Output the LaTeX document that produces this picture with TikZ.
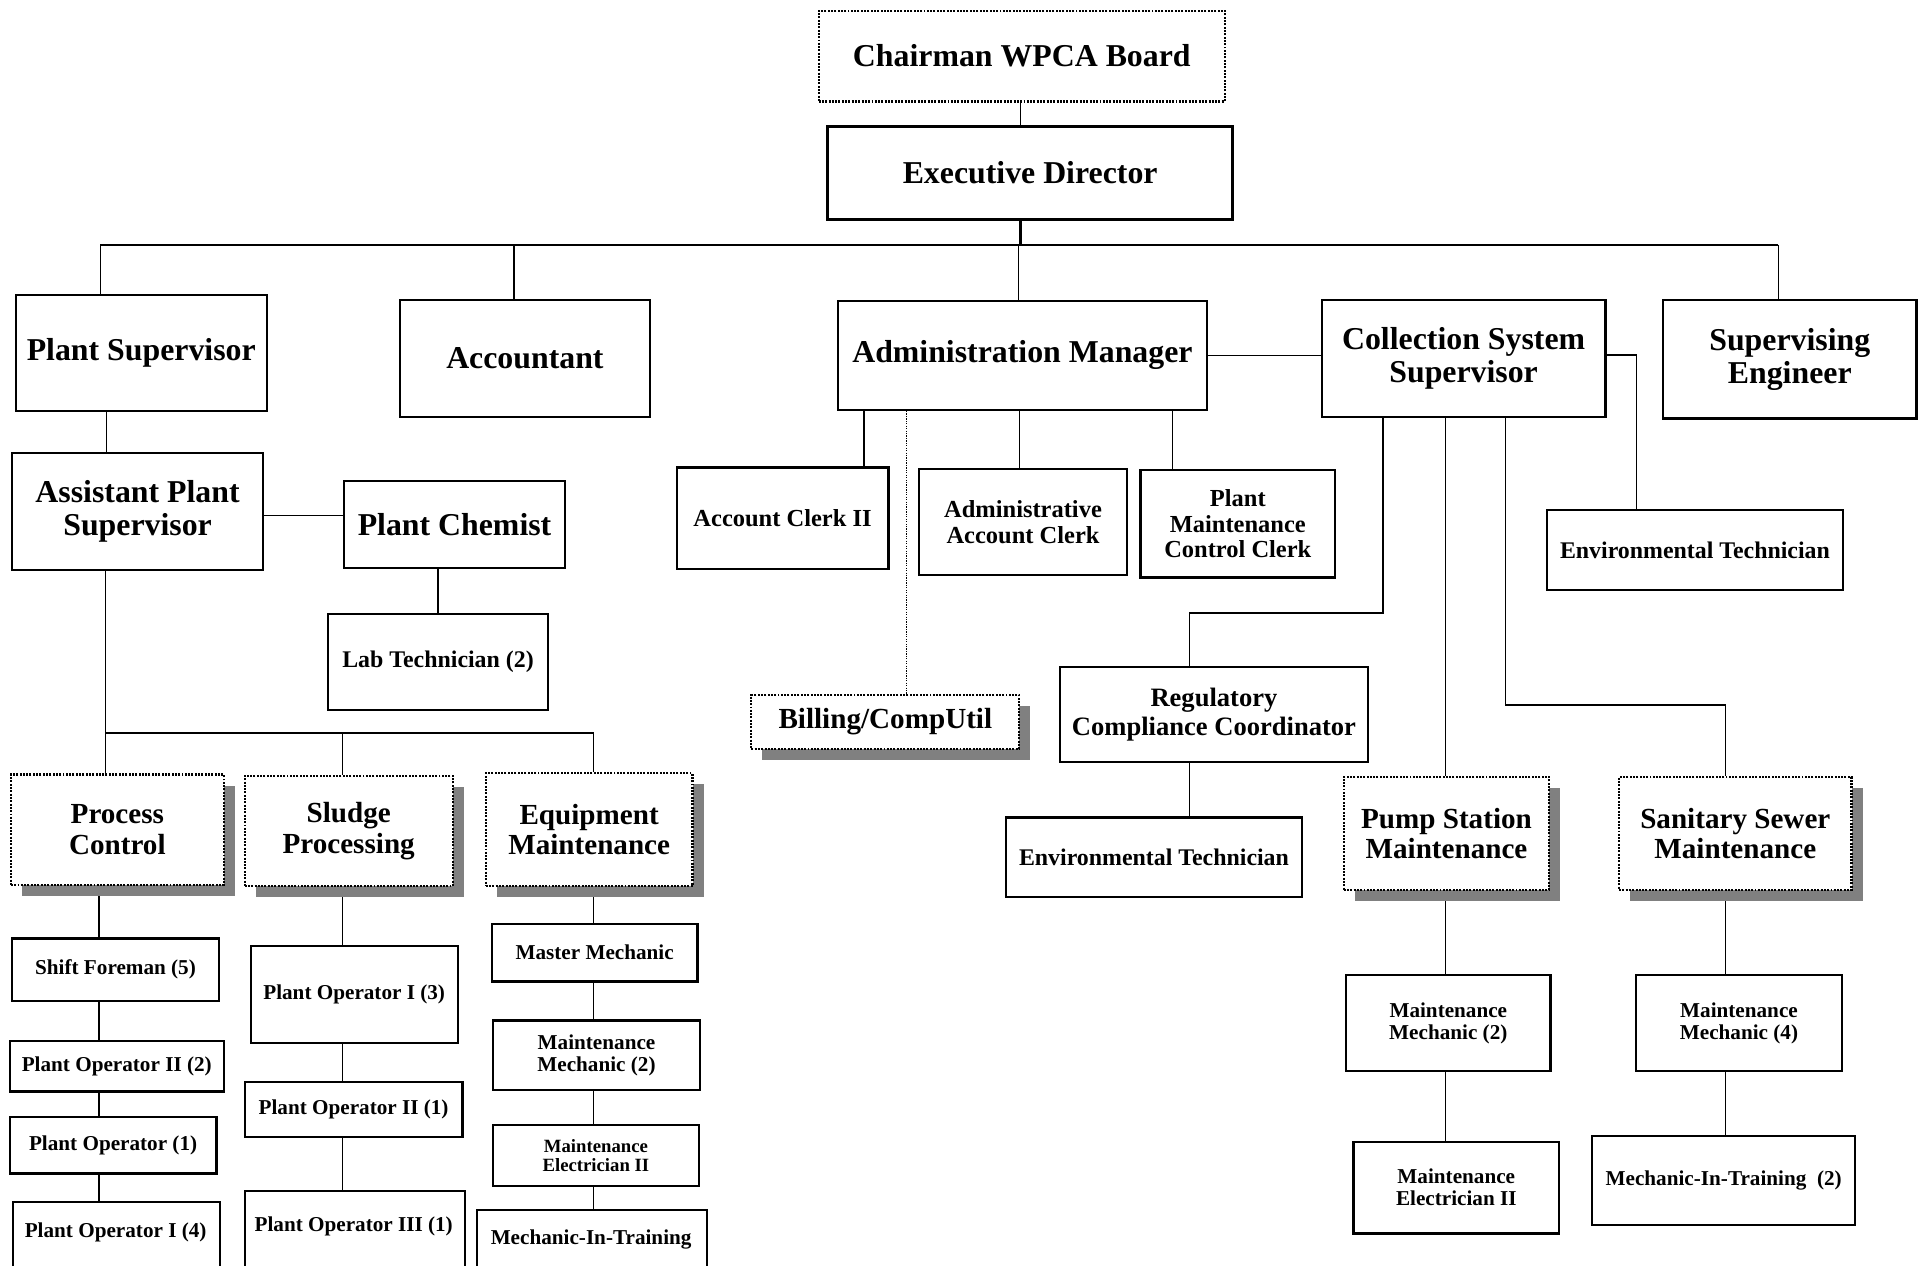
\documentclass[tikz,border=0pt]{standalone}
\usepackage{fontspec}
\setmainfont{Liberation Serif}
\usetikzlibrary{shadows}
\pgfdeclarelayer{bg}
\pgfsetlayers{bg,main}
\tikzset{
  box/.style={draw, line width=1.8pt, fill=white, inner sep=0pt, anchor=north west, align=center},
  dotline/.style={dash pattern=on 1.6pt off 1.1pt, line width=1.8pt},
  dotbox/.style={box, dotline},
  shbox/.style={box, dotline, drop shadow={shadow xshift=9pt, shadow yshift=-9pt, fill=black!50, opacity=1}},
  thickbox/.style={box, line width=2.4pt},
  conn/.style={line width=1.2pt},
  fA/.style={font=\fontsize{26}{27}\selectfont\bfseries},
  fB/.style={font=\fontsize{23.8}{25}\selectfont\bfseries},
  fC/.style={font=\fontsize{20}{21}\selectfont\bfseries},
  fD/.style={font=\fontsize{19.5}{20.5}\selectfont\bfseries},
  fE/.style={font=\fontsize{17.3}{18}\selectfont\bfseries},
  fF/.style={font=\fontsize{15.3}{15.5}\selectfont\bfseries},
  fG/.style={font=\fontsize{21.7}{23}\selectfont\bfseries},
  txt/.style={inner sep=0pt, align=center}
}
\newcommand\mybox[7]{\node[#1, minimum width=#5pt, minimum height=#6pt] (#2) at (#3,#4) {#7};}
\begin{document}
\begin{tikzpicture}[x=1pt,y=-1pt]
\useasboundingbox (0,0) rectangle (1568,1034);
\begin{pgfonlayer}{bg}
\fill[white] (0,0) rectangle (1568,1034);
\end{pgfonlayer}
\clip (0,0) rectangle (1568,1034);
% top
\mybox{dotbox,fA}{chair}{668}{8}{332}{74}{Chairman WPCA Board}
\mybox{thickbox,fA}{ed}{675}{102}{331}{76}{Executive Director}
% level 1
\mybox{box,fA}{ps}{12}{240}{205}{95}{Plant Supervisor}
\mybox{box,fA}{acc}{326}{244}{204}{96}{Accountant}
\mybox{box,fA}{am}{684}{245}{301}{89}{Administration Manager}
\mybox{box,fA}{css}{1079}{244}{232}{96}{Collection System\\Supervisor}
\mybox{box,fA}{se}{1358}{244}{207}{97}{Supervising\\Engineer}
\mybox{box,fD}{envR}{1263}{416}{242}{65}{Environmental Technician}
% plant side
\mybox{box,fA}{aps}{9}{369}{205}{96}{Assistant Plant\\Supervisor}
\mybox{box,fA}{pc}{280}{392}{181}{71}{Plant Chemist}
\mybox{box,fD}{lab}{267}{501}{180}{78}{Lab Technician (2)}
\mybox{shbox,fB}{proc}{8}{632}{174}{90}{Process\\Control}
\mybox{shbox,fB}{sludge}{199}{633}{170}{90}{Sludge\\Processing}
\mybox{shbox,fB}{equip}{396}{631}{169}{92}{Equipment\\Maintenance}
% process control column
\mybox{box,fE}{sf}{9}{766}{169}{51}{Shift Foreman (5)}
\mybox{box,fE}{poa}{7}{850}{175}{41}{Plant Operator II (2)}
\mybox{box,fE}{pob}{7}{912}{169}{46}{Plant Operator (1)}
\mybox{box}{poc}{10}{981}{169}{64}{}
\node[txt,fE] (poctext) at (94.5,1007) {Plant Operator I (4)};
% sludge column
\mybox{box,fE}{pod}{204}{772}{169}{79}{Plant Operator I (3)}
\mybox{box,fE}{poe}{199}{883}{178}{45}{Plant Operator II (1)}
\mybox{box}{pof}{199}{972}{180}{70}{}
\node[txt,fE] (poftext) at (289,1002) {Plant Operator III (1)};
% equipment column
\mybox{box,fE}{mm}{401}{754}{168}{47}{Master Mechanic}
\mybox{box,fE}{mmb}{402}{833}{169}{57}{Maintenance\\Mechanic (2)}
\mybox{box,fF}{mel}{402}{918}{168}{50}{Maintenance\\Electrician II}
\mybox{box}{mit}{389}{988}{188}{60}{}
\node[txt,fE] (mittext) at (483,1013) {Mechanic-In-Training};
% admin children
\mybox{box,fC}{acl}{552}{381}{173}{83}{Account Clerk II}
\mybox{box,fC}{aac}{750}{382}{170}{87}{Administrative\\Account Clerk}
\mybox{box,fC}{pmcc}{931}{383}{159}{88}{Plant\\Maintenance\\Control Clerk}
\mybox{shbox,fB}{bill}{613}{567}{219}{44}{Billing/CompUtil}
% collection children
\mybox{box,fG}{rcc}{865}{544}{252}{78}{Regulatory\\Compliance Coordinator}
\mybox{box,fD}{envM}{821}{667}{242}{65}{Environmental Technician}
\mybox{shbox,fB}{psm}{1097}{634}{168}{92}{Pump Station\\Maintenance}
\mybox{shbox,fB}{ssm}{1322}{634}{190}{92}{Sanitary Sewer\\Maintenance}
\mybox{box,fE}{mpa}{1099}{796}{167}{78}{Maintenance\\Mechanic (2)}
\mybox{box,fE}{mpb}{1105}{932}{168}{75}{Maintenance\\Electrician II}
\mybox{box,fE}{msa}{1336}{796}{168}{78}{Maintenance\\Mechanic (4)}
\mybox{box,fE}{msb}{1300}{927}{215}{73}{Mechanic-In-Training~~(2)}
% helper coordinates
\coordinate (xED) at (834,0);
\coordinate (busL) at (82,200);
\coordinate (busR) at (1453,200);
\coordinate (xAcc) at (420,0);
\coordinate (xAM) at (832,0);
\coordinate (kE) at (1337,290);
\coordinate (xPS) at (87,0);
\coordinate (yPC) at (0,421);
\coordinate (xLab) at (358,0);
\coordinate (jP) at (86,599);
\coordinate (jS) at (280,599);
\coordinate (jE) at (485,599);
\coordinate (xPcol) at (81,0);
\coordinate (xA1) at (706,0);
\coordinate (xA2) at (833,0);
\coordinate (xA3) at (958,0);
\coordinate (xBill) at (741,0);
\coordinate (kR) at (1130,501);
\coordinate (xR) at (972,0);
\coordinate (xP) at (1181,0);
\coordinate (kS) at (1230,576);
\coordinate (xS) at (1410,0);
\begin{pgfonlayer}{bg}
\draw[conn] (chair.south -| xED) -- (ed.north -| xED);
\draw[line width=2.4pt] (ed.south -| xED) -- (busL -| xED);
\draw[conn] (busL) -- (busR);
\draw[conn] (busL) -- (ps.north -| busL);
\draw[conn] (busL -| xAcc) -- (acc.north -| xAcc);
\draw[conn] (busL -| xAM) -- (am.north -| xAM);
\draw[conn] (busR) -- (se.north -| busR);
\draw[conn] (am.east) -- (am.east -| css.west);
\draw[conn] (css.east |- kE) -- (kE) -- (envR.north -| kE);
\draw[conn] (ps.south -| xPS) -- (aps.north -| xPS);
\draw[conn] (aps.east |- yPC) -- (pc.west |- yPC);
\draw[conn] (pc.south -| xLab) -- (lab.north -| xLab);
\draw[conn] (aps.south -| jP) -- (jP) -- (jE) -- (equip.north -| jE);
\draw[conn] (jP) -- (proc.north -| jP);
\draw[conn] (jS) -- (sludge.north -| jS);
\draw[conn] (proc.south -| xPcol) -- (sf.north -| xPcol);
\draw[conn] (sf.south -| xPcol) -- (poa.north -| xPcol);
\draw[conn] (poa.south -| xPcol) -- (pob.north -| xPcol);
\draw[conn] (pob.south -| xPcol) -- (poc.north -| xPcol);
\draw[conn] (sludge.south -| jS) -- (pod.north -| jS);
\draw[conn] (pod.south -| jS) -- (poe.north -| jS);
\draw[conn] (poe.south -| jS) -- (pof.north -| jS);
\draw[conn] (equip.south -| jE) -- (mm.north -| jE);
\draw[conn] (mm.south -| jE) -- (mmb.north -| jE);
\draw[conn] (mmb.south -| jE) -- (mel.north -| jE);
\draw[conn] (mel.south -| jE) -- (mit.north -| jE);
\draw[conn] (am.south -| xA1) -- (acl.north -| xA1);
\draw[conn] (am.south -| xA2) -- (aac.north -| xA2);
\draw[conn] (am.south -| xA3) -- (pmcc.north -| xA3);
\draw[line width=1pt, dash pattern=on 1pt off 1pt] (am.south -| xBill) -- (bill.north -| xBill);
\draw[conn] (css.south -| kR) -- (kR) -- (kR -| xR) -- (rcc.north -| xR);
\draw[conn] (rcc.south -| xR) -- (envM.north -| xR);
\draw[conn] (css.south -| xP) -- (psm.north -| xP);
\draw[conn] (css.south -| kS) -- (kS) -- (kS -| xS) -- (ssm.north -| xS);
\draw[conn] (psm.south -| xP) -- (mpa.north -| xP);
\draw[conn] (mpa.south -| xP) -- (mpb.north -| xP);
\draw[conn] (ssm.south -| xS) -- (msa.north -| xS);
\draw[conn] (msa.south -| xS) -- (msb.north -| xS);
\end{pgfonlayer}
\end{tikzpicture}
\end{document}
